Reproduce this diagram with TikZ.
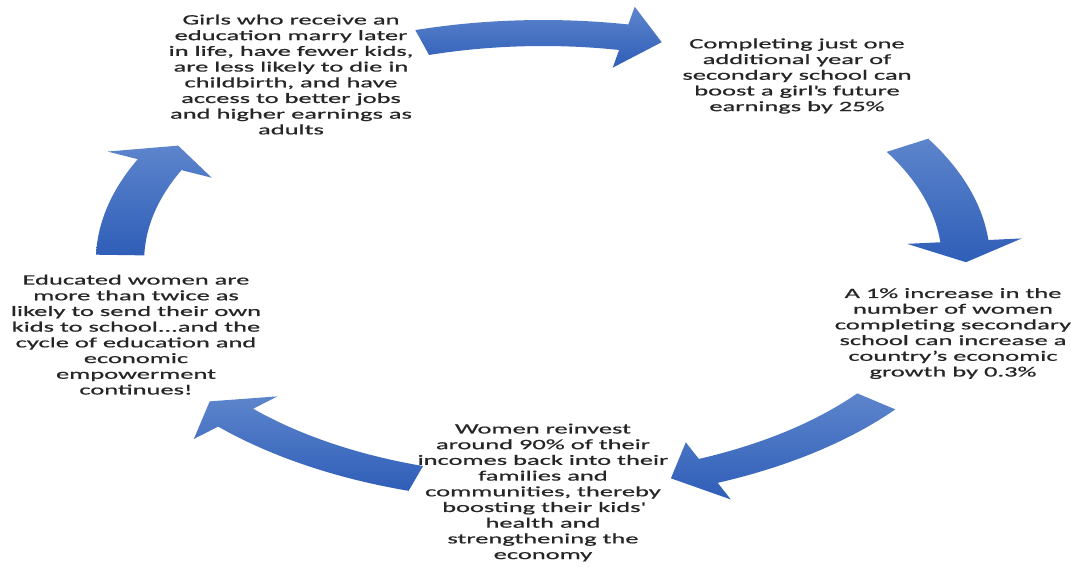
\documentclass[tikz,border=0pt]{standalone}
\usepackage{fontspec}
\setmainfont{Carlito}[FakeStretch=1.85, FakeBold=0.8]
\definecolor{arrowtop}{RGB}{93,133,204}
\definecolor{arrowbot}{RGB}{47,94,184}
\definecolor{txt}{RGB}{38,38,38}
\newcommand\cycarrow[3]{%
  \shade[blockarrow] plot[domain=#1:#3, samples=30] (\x:1.057) -- (#3:1.136) -- (#2:1)
    -- (#3:0.864) -- plot[domain=#3:#1, samples=30] (\x:0.943) -- cycle;}
\begin{document}
\begin{tikzpicture}[x=1pt,y=1pt,
  lbl/.style={align=center, inner sep=0pt, text=txt, font=\fontsize{14.3}{15.7}\selectfont},
  blockarrow/.style={top color=arrowtop, bottom color=arrowbot, draw=none}]
\useasboundingbox (0,0) rectangle (1071,-566);
\node[lbl] (n1) at (291,-74.5) {Girls who receive an\\education marry later\\in life, have fewer kids,\\are less likely to die in\\childbirth, and have\\access to better jobs\\and higher earnings as\\adults};
\node[lbl] (n2) at (797,-76) {Completing just one\\additional year of\\secondary school can\\boost a girl\textquotesingle s future\\earnings by 25\%};
\node[lbl] (n3) at (953,-333.5) {A 1\% increase in the\\number of women\\completing secondary\\school can increase a\\country's economic\\growth by 0.3\%};
\node[lbl] (n4) at (543,-492.5) {Women reinvest\\around 90\% of their\\incomes back into their\\families and\\communities, thereby\\boosting their kids\textquotesingle\\health and\\strengthening the\\economy};
\node[lbl] (n5) at (136,-334.6) {Educated women are\\more than twice as\\likely to send their own\\kids to school...and the\\cycle of education and\\economic\\empowerment\\continues!};
\begin{scope}[shift={(543,-261)}, x=423pt, y=228pt]
  \cycarrow{106.6}{73.7}{79}
  \cycarrow{30.5}{-0.3}{5}
  \cycarrow{-38}{-72.4}{-67}
  \cycarrow{-107.5}{-142}{-136.6}
  \cycarrow{178.5}{149.6}{155}
\end{scope}
\end{tikzpicture}
\end{document}
